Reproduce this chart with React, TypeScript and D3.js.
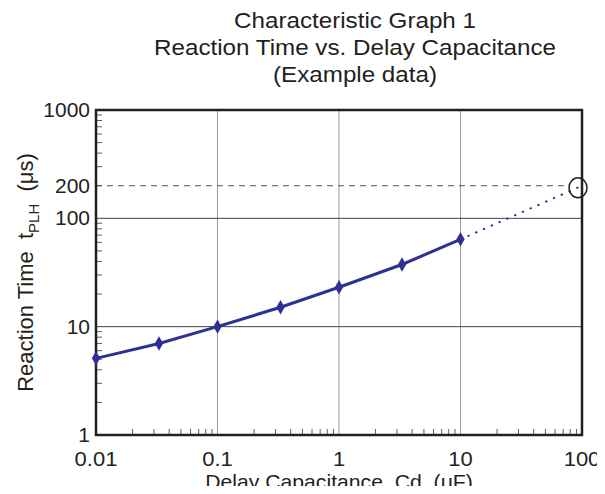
import { useRef, useEffect } from 'react';
import * as d3 from 'd3';

// Measured data (uF -> us)
const capacitance = [0.01, 0.033, 0.1, 0.33, 1, 3.3, 10];
const reactionTime = [5.1, 7.0, 10, 15.1, 23.1, 37.5, 64];
// Extrapolated segment
const extCapacitance = [10, 100];
const extReactionTime = [64, 200];

const xTicks = [0.01, 0.1, 1, 10, 100];
const xTickLabels = ['0.01', '0.1', '1', '10', '100'];
const yTicks = [1, 10, 100, 200, 1000];
const yTickLabels = ['1', '10', '100', '200', '1000'];

const titleLines = ['Characteristic Graph 1', 'Reaction Time vs. Delay Capacitance', '(Example data)'];

export default function App() {
  const ref = useRef<SVGSVGElement>(null);

  useEffect(() => {
    if (!ref.current) return;
    const width = 605;
    const height = 494;
    const margin = { top: 110, right: 23, bottom: 59, left: 96 };
    const font = '"Liberation Sans", Arial, sans-serif';
    const ink = '#231f20';
    const blue = '#2e3192';

    const svg = d3.select(ref.current).attr('width', width).attr('height', height);
    svg.selectAll('*').remove();

    const x = d3.scaleLog().domain([0.01, 100]).range([margin.left, width - margin.right]);
    const y = d3.scaleLog().domain([1, 1000]).range([height - margin.bottom, margin.top]);

    // Title (text in the reference is slightly stretched sideways)
    svg.append('g')
      .selectAll('text')
      .data(titleLines)
      .join('text')
      .attr('transform', (_, i) => `translate(355,${28 + i * 27}) scale(1.1,1)`)
      .attr('text-anchor', 'middle')
      .style('font-family', font)
      .style('font-size', '22px')
      .attr('fill', ink)
      .text(d => d);

    // Grid lines at decades
    const decadesX = [0.1, 1, 10];
    const decadesY = [10, 100];
    svg.append('g')
      .selectAll('line')
      .data(decadesX)
      .join('line')
      .attr('x1', d => x(d)).attr('x2', d => x(d))
      .attr('y1', y(1)).attr('y2', y(1000))
      .attr('stroke', '#999').attr('stroke-width', 1);
    svg.append('g')
      .selectAll('line')
      .data(decadesY)
      .join('line')
      .attr('x1', x(0.01)).attr('x2', x(100))
      .attr('y1', d => y(d)).attr('y2', d => y(d))
      .attr('stroke', '#444').attr('stroke-width', 1);

    // Minor ticks (inside, left and bottom)
    const minorX: number[] = [];
    [0.01, 0.1, 1, 10].forEach(dec => { for (let k = 2; k <= 9; k++) minorX.push(dec * k); });
    const minorY: number[] = [];
    [1, 10, 100].forEach(dec => { for (let k = 2; k <= 9; k++) minorY.push(dec * k); });

    svg.append('g')
      .selectAll('line')
      .data(minorX)
      .join('line')
      .attr('x1', d => x(d)).attr('x2', d => x(d))
      .attr('y1', y(1)).attr('y2', y(1) - 6)
      .attr('stroke', '#333').attr('stroke-width', 0.8);
    svg.append('g')
      .selectAll('line')
      .data(minorY)
      .join('line')
      .attr('x1', x(0.01)).attr('x2', x(0.01) + 6)
      .attr('y1', d => y(d)).attr('y2', d => y(d))
      .attr('stroke', '#333').attr('stroke-width', 0.8);

    // Dashed reference at 200
    svg.append('line')
      .attr('x1', x(0.01)).attr('x2', x(100) - 12)
      .attr('y1', y(200)).attr('y2', y(200))
      .attr('stroke', '#555').attr('stroke-width', 1)
      .attr('stroke-dasharray', '6,5');

    // Frame
    svg.append('rect')
      .attr('x', x(0.01)).attr('y', y(1000))
      .attr('width', x(100) - x(0.01)).attr('height', y(1) - y(1000))
      .attr('fill', 'none').attr('stroke', ink).attr('stroke-width', 2.5);

    // Tick labels
    svg.append('g')
      .selectAll('text')
      .data(xTicks)
      .join('text')
      .attr('transform', d => `translate(${x(d)},466) scale(1.1,1)`)
      .attr('text-anchor', 'middle')
      .style('font-family', font).style('font-size', '20px')
      .attr('fill', ink)
      .text((_, i) => xTickLabels[i]);
    svg.append('g')
      .selectAll('text')
      .data(yTicks)
      .join('text')
      .attr('transform', d => `translate(${x(0.01) - 6},${y(d) + 7}) scale(1.05,1)`)
      .attr('text-anchor', 'end')
      .style('font-family', font).style('font-size', '20px')
      .attr('fill', ink)
      .text((_, i) => yTickLabels[i]);

    // Axis titles
    svg.append('text')
      .attr('transform', `translate(${(x(0.01) + x(100)) / 2},489) scale(1.06,1)`)
      .attr('text-anchor', 'middle')
      .style('font-family', font).style('font-size', '20px')
      .style('white-space', 'pre')
      .attr('fill', ink)
      .text('Delay Capacitance  Cd  (\u03bcF)');

    const yt = svg.append('text')
      .attr('transform', `translate(33,${(y(1) + y(1000)) / 2}) rotate(-90)`)
      .attr('text-anchor', 'middle')
      .style('font-family', font).style('font-size', '22px')
      .style('white-space', 'pre')
      .attr('fill', ink);
    yt.append('tspan').text('Reaction Time  t');
    yt.append('tspan').attr('dy', 6).style('font-size', '15px').text('PLH');
    yt.append('tspan').attr('dy', -6).text('  (\u03bcs)');

    // Extrapolated dotted line
    const extData = extCapacitance.map((c, i) => ({ c, t: extReactionTime[i] }));
    const line = d3.line<{ c: number; t: number }>().x(d => x(d.c)).y(d => y(d.t));
    svg.append('path')
      .datum(extData)
      .attr('fill', 'none')
      .attr('stroke', blue)
      .attr('stroke-width', 2)
      .attr('stroke-linecap', 'round')
      .attr('stroke-dasharray', '0.5,8')
      .attr('d', line);

    // Measured line
    const data = capacitance.map((c, i) => ({ c, t: reactionTime[i] }));
    svg.append('path')
      .datum(data)
      .attr('fill', 'none')
      .attr('stroke', blue)
      .attr('stroke-width', 3)
      .attr('d', line);

    svg.append('g')
      .selectAll('path')
      .data(data)
      .join('path')
      .attr('transform', d => `translate(${x(d.c)},${y(d.t)})`)
      .attr('d', d3.symbol(d3.symbolDiamond, 60)())
      .attr('fill', blue);

    // Circle marking 200us at 100uF
    svg.append('ellipse')
      .attr('cx', x(100) - 4).attr('cy', y(200) + 2)
      .attr('rx', 9).attr('ry', 10)
      .attr('fill', 'none')
      .attr('stroke', ink)
      .attr('stroke-width', 1.5);
  }, []);

  return (
    <div style={{ margin: -8 }}>
      <svg ref={ref} style={{ display: 'block' }}></svg>
    </div>
  );
}
